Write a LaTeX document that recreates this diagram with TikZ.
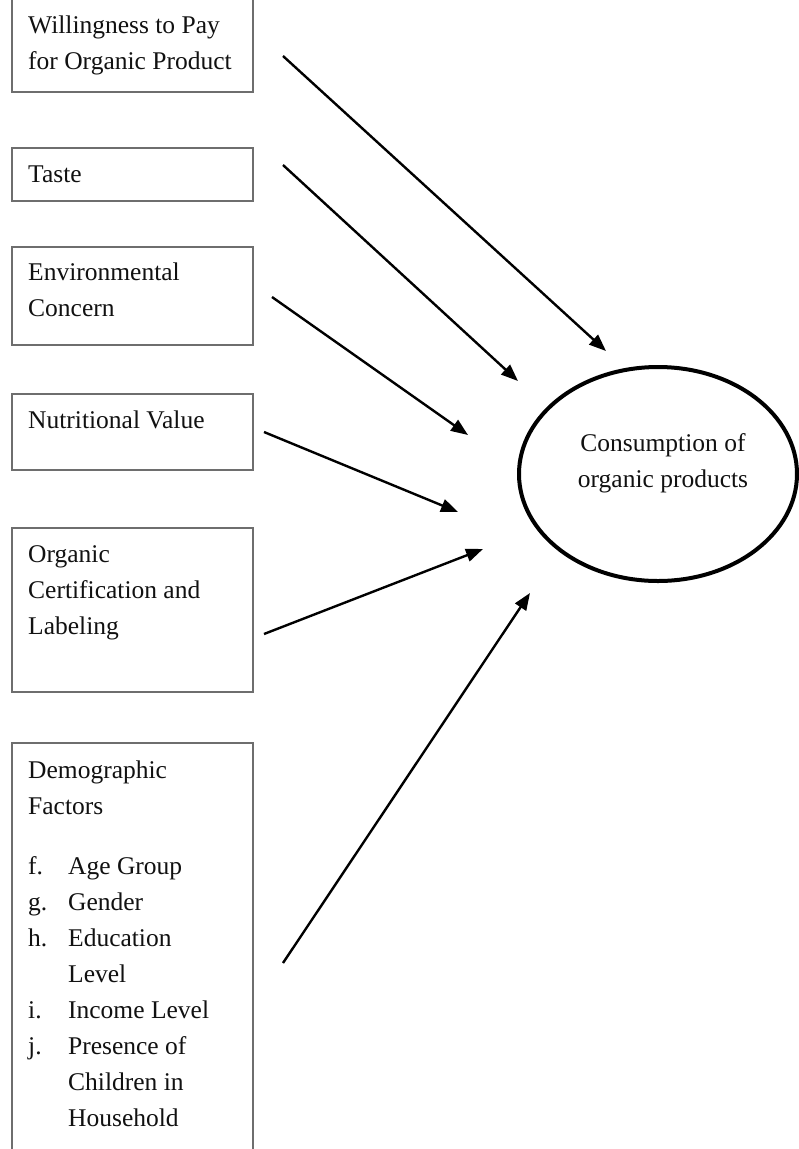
\documentclass[tikz,border=0pt]{standalone}
\usepackage{fontspec}
\setmainfont{Liberation Serif}
\usetikzlibrary{arrows.meta,shapes.geometric}

\definecolor{boxline}{HTML}{6E6E6E}
\definecolor{inktext}{HTML}{111111}

\begin{document}
\begin{tikzpicture}[x=1pt,y=-1pt,
  factorbox/.style={draw=boxline,line width=1.5pt,rectangle,inner sep=0pt,minimum width=241pt},
  boxtext/.style={anchor=north west,inner sep=0pt,align=left,text=inktext,
    font=\fontsize{25.5}{36}\selectfont},
  outcome/.style={draw=black,line width=4pt,ellipse,inner sep=0pt,
    minimum width=278pt,minimum height=214pt},
  influence/.style={line width=2.4pt,-{Triangle[length=17pt,width=13pt]}}]
\useasboundingbox (0,0) rectangle (799,1149);
\clip (0,0) rectangle (799,1149);

% factor boxes (x from 12 to 253)
\node[factorbox,minimum height=93pt]  (wtp)  at (132.5,45.5)  {};
\node[factorbox,minimum height=53pt]  (taste) at (132.5,174.5) {};
\node[factorbox,minimum height=98pt]  (env)  at (132.5,296)   {};
\node[factorbox,minimum height=76pt]  (nutr) at (132.5,432)   {};
\node[factorbox,minimum height=164pt] (cert) at (132.5,610)   {};
\node[factorbox,minimum height=417pt] (demo) at (132.5,951.5) {};

% box labels (first baseline minus strut height 25.2)
\node[boxtext] (wtp-t)   at (28,7.8)   {\strut Willingness to Pay\\for Organic Product};
\node[boxtext] (taste-t) at (28,156.8) {\strut Taste};
\node[boxtext] (env-t)   at (28,254.8) {\strut Environmental\\Concern};
\node[boxtext] (nutr-t)  at (28,402.8) {\strut Nutritional Value};
\node[boxtext] (cert-t)  at (28,536.8) {\strut Organic\\Certification and\\Labeling};
\node[boxtext] (demo-t)  at (28,752.8) {\strut Demographic\\Factors\\[24pt]
  \makebox[40pt][l]{f.}Age Group\\
  \makebox[40pt][l]{g.}Gender\\
  \makebox[40pt][l]{h.}Education\\
  \hspace*{40pt}Level\\
  \makebox[40pt][l]{i.}Income Level\\
  \makebox[40pt][l]{j.}Presence of\\
  \hspace*{40pt}Children in\\
  \hspace*{40pt}Household};

% outcome
\node[outcome] (cons) at (658,474) {};
\node[anchor=north,inner sep=0pt,align=center,text=inktext,
  font=\fontsize{25.5}{36}\selectfont] (cons-t) at (663,425.8)
  {\strut Consumption of\\organic products};

% arrow end points
\coordinate (wtp-s)   at (283,56);   \coordinate (wtp-e)   at (606,351);
\coordinate (taste-s) at (283,165);  \coordinate (taste-e) at (518,381);
\coordinate (env-s)   at (272,297);  \coordinate (env-e)   at (468,435);
\coordinate (nutr-s)  at (264,432);  \coordinate (nutr-e)  at (458,512);
\coordinate (cert-s)  at (264,634);  \coordinate (cert-e)  at (483,549);
\coordinate (demo-s)  at (283,963);  \coordinate (demo-e)  at (530,593);

\foreach \f in {wtp,taste,env,nutr,cert,demo}
  \draw[influence] (\f-s) -- (\f-e);
\end{tikzpicture}
\end{document}
